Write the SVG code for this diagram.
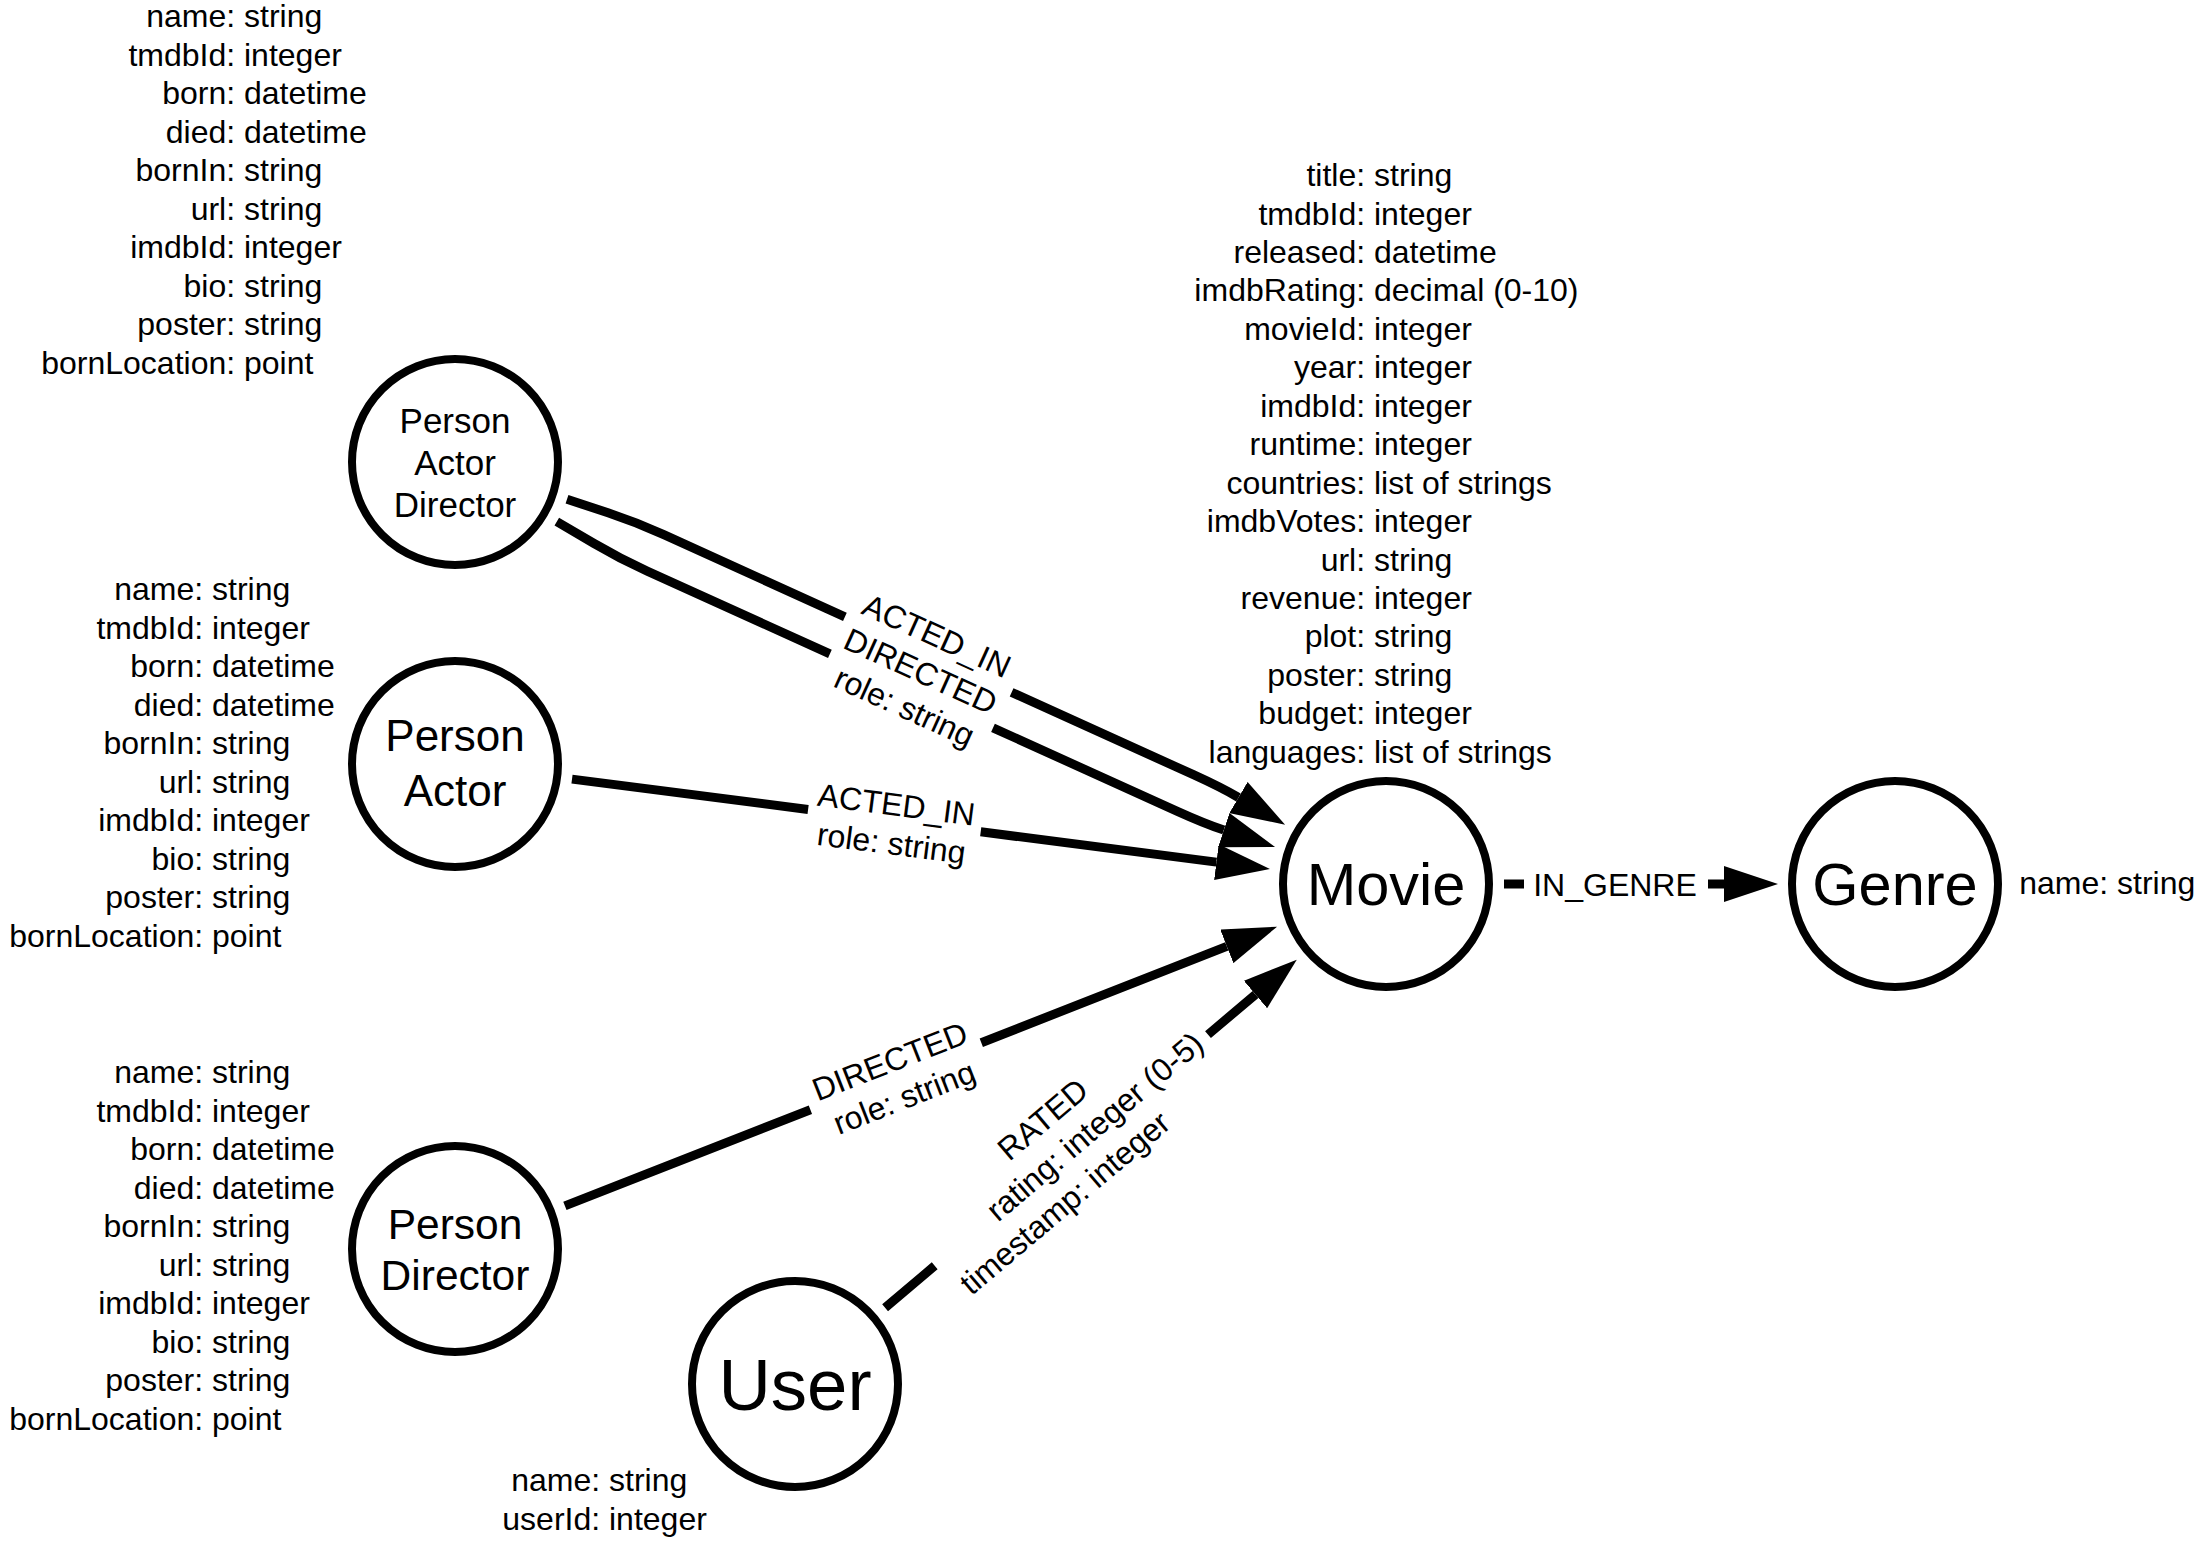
<svg xmlns="http://www.w3.org/2000/svg" width="2203" height="1541" viewBox="0 0 2203 1541">
<defs>
<style>
text{font-family:"Liberation Sans",Arial,Helvetica,sans-serif;fill:#000}
.node{fill:#fff;stroke:#000;stroke-width:8}
.prop{font-size:32px}
.k{text-anchor:end}
.rel{fill:none;stroke:#000;stroke-width:9;stroke-linecap:butt;stroke-linejoin:round;marker-end:url(#arrow)}
.lbl{font-size:32px;text-anchor:middle}
.cap{text-anchor:middle}
</style>
<marker id="arrow" markerUnits="userSpaceOnUse" markerWidth="54" markerHeight="36" viewBox="0 0 54 36" refX="0" refY="18" orient="auto">
<path d="M0,0 L54,18 L0,36 Z" fill="#000"/>
</marker>
</defs>
<rect width="2203" height="1541" fill="#fff"/>

<g id="connectors">
<path id="rel-pad-acted" class="rel" d="M567.0,499.2 L608.0,512.8 Q636.5,522.3 663.8,534.7 L844.9,616.8 M1011.6,692.3 L1193.4,774.7 Q1220.7,787.1 1238.5,797.5"/>
<path id="rel-pad-directed" class="rel" d="M556.8,521.7 L594.1,543.5 Q619.9,558.7 647.2,571.1 L829.9,653.9 M993.0,727.8 L1177.4,811.4 Q1204.8,823.8 1223.8,830.1"/>
<path id="rel-pa-acted" class="rel" d="M572.0,779.1 L808.1,809.5 M980.7,831.8 L1216.4,862.1"/>
<path id="rel-pd-directed" class="rel" d="M564.9,1205.9 L810.4,1109.7 M981.3,1042.7 L1226.8,946.4"/>
<path id="rel-user-rated" class="rel" d="M885.1,1307.8 L934.7,1265.8 M1208.0,1034.6 L1255.5,994.5"/>
<path id="rel-movie-genre" class="rel" d="M1504,884 L1524,884 M1708,884 L1724,884"/>
<g class="lbl">
<g transform="translate(920.0,672.7) rotate(24.38)">
<text y="-29.5">ACTED_IN</text>
<text y="9.5">DIRECTED</text>
<text y="48.5">role: string</text>
</g>
<g transform="translate(894.4,820.6) rotate(7.34)">
<text y="-5">ACTED_IN</text>
<text y="34">role: string</text>
</g>
<g transform="translate(895.8,1076.2) rotate(-21.41)">
<text y="-5">DIRECTED</text>
<text y="34">role: string</text>
</g>
<g transform="translate(1071.4,1150.2) rotate(-40.23)">
<text x="-2" y="-31">RATED</text>
<text x="33" y="8">rating: integer (0-5)</text>
<text x="-39" y="47">timestamp: integer</text>
</g>
<text x="1615" y="895.5">IN_GENRE</text>
</g>
</g>

<g id="node-person-actor-director">
<circle class="node" cx="455" cy="462" r="103"/>
<g class="cap" font-size="35">
<text x="455" y="432.5">Person</text>
<text x="455" y="474.5">Actor</text>
<text x="455" y="516.5">Director</text>
</g>
<g class="prop">
<text y="27"><tspan class="k" x="244">name: </tspan><tspan x="244">string</tspan></text>
<text y="65.5"><tspan class="k" x="244">tmdbId: </tspan><tspan x="244">integer</tspan></text>
<text y="104"><tspan class="k" x="244">born: </tspan><tspan x="244">datetime</tspan></text>
<text y="142.5"><tspan class="k" x="244">died: </tspan><tspan x="244">datetime</tspan></text>
<text y="181"><tspan class="k" x="244">bornIn: </tspan><tspan x="244">string</tspan></text>
<text y="219.5"><tspan class="k" x="244">url: </tspan><tspan x="244">string</tspan></text>
<text y="258"><tspan class="k" x="244">imdbId: </tspan><tspan x="244">integer</tspan></text>
<text y="296.5"><tspan class="k" x="244">bio: </tspan><tspan x="244">string</tspan></text>
<text y="335"><tspan class="k" x="244">poster: </tspan><tspan x="244">string</tspan></text>
<text y="373.5"><tspan class="k" x="244">bornLocation: </tspan><tspan x="244">point</tspan></text>
</g>
</g>

<g id="node-person-actor">
<circle class="node" cx="455" cy="764" r="103"/>
<g class="cap" font-size="44">
<text x="455" y="751">Person</text>
<text x="455" y="806">Actor</text>
</g>
<g class="prop">
<text y="600"><tspan class="k" x="212">name: </tspan><tspan x="212">string</tspan></text>
<text y="638.5"><tspan class="k" x="212">tmdbId: </tspan><tspan x="212">integer</tspan></text>
<text y="677"><tspan class="k" x="212">born: </tspan><tspan x="212">datetime</tspan></text>
<text y="715.5"><tspan class="k" x="212">died: </tspan><tspan x="212">datetime</tspan></text>
<text y="754"><tspan class="k" x="212">bornIn: </tspan><tspan x="212">string</tspan></text>
<text y="792.5"><tspan class="k" x="212">url: </tspan><tspan x="212">string</tspan></text>
<text y="831"><tspan class="k" x="212">imdbId: </tspan><tspan x="212">integer</tspan></text>
<text y="869.5"><tspan class="k" x="212">bio: </tspan><tspan x="212">string</tspan></text>
<text y="908"><tspan class="k" x="212">poster: </tspan><tspan x="212">string</tspan></text>
<text y="946.5"><tspan class="k" x="212">bornLocation: </tspan><tspan x="212">point</tspan></text>
</g>
</g>

<g id="node-person-director">
<circle class="node" cx="455" cy="1249" r="103"/>
<g class="cap" font-size="42.5">
<text x="455" y="1238.5">Person</text>
<text x="455" y="1289.5">Director</text>
</g>
<g class="prop">
<text y="1083"><tspan class="k" x="212">name: </tspan><tspan x="212">string</tspan></text>
<text y="1121.5"><tspan class="k" x="212">tmdbId: </tspan><tspan x="212">integer</tspan></text>
<text y="1160"><tspan class="k" x="212">born: </tspan><tspan x="212">datetime</tspan></text>
<text y="1198.5"><tspan class="k" x="212">died: </tspan><tspan x="212">datetime</tspan></text>
<text y="1237"><tspan class="k" x="212">bornIn: </tspan><tspan x="212">string</tspan></text>
<text y="1275.5"><tspan class="k" x="212">url: </tspan><tspan x="212">string</tspan></text>
<text y="1314"><tspan class="k" x="212">imdbId: </tspan><tspan x="212">integer</tspan></text>
<text y="1352.5"><tspan class="k" x="212">bio: </tspan><tspan x="212">string</tspan></text>
<text y="1391"><tspan class="k" x="212">poster: </tspan><tspan x="212">string</tspan></text>
<text y="1429.5"><tspan class="k" x="212">bornLocation: </tspan><tspan x="212">point</tspan></text>
</g>
</g>

<g id="node-user">
<circle class="node" cx="795" cy="1384" r="103"/>
<text class="cap" x="795" y="1410" font-size="72.5">User</text>
<g class="prop">
<text y="1491"><tspan class="k" x="609">name: </tspan><tspan x="609">string</tspan></text>
<text y="1529.5"><tspan class="k" x="609">userId: </tspan><tspan x="609">integer</tspan></text>
</g>
</g>

<g id="node-movie">
<circle class="node" cx="1386" cy="884" r="103"/>
<text class="cap" x="1386" y="905.3" font-size="59.5">Movie</text>
<g class="prop">
<text y="186"><tspan class="k" x="1374">title: </tspan><tspan x="1374">string</tspan></text>
<text y="224.5"><tspan class="k" x="1374">tmdbId: </tspan><tspan x="1374">integer</tspan></text>
<text y="262.9"><tspan class="k" x="1374">released: </tspan><tspan x="1374">datetime</tspan></text>
<text y="301.4"><tspan class="k" x="1374">imdbRating: </tspan><tspan x="1374">decimal (0-10)</tspan></text>
<text y="339.8"><tspan class="k" x="1374">movieId: </tspan><tspan x="1374">integer</tspan></text>
<text y="378.3"><tspan class="k" x="1374">year: </tspan><tspan x="1374">integer</tspan></text>
<text y="416.7"><tspan class="k" x="1374">imdbId: </tspan><tspan x="1374">integer</tspan></text>
<text y="455.2"><tspan class="k" x="1374">runtime: </tspan><tspan x="1374">integer</tspan></text>
<text y="493.6"><tspan class="k" x="1374">countries: </tspan><tspan x="1374">list of strings</tspan></text>
<text y="532.1"><tspan class="k" x="1374">imdbVotes: </tspan><tspan x="1374">integer</tspan></text>
<text y="570.5"><tspan class="k" x="1374">url: </tspan><tspan x="1374">string</tspan></text>
<text y="609"><tspan class="k" x="1374">revenue: </tspan><tspan x="1374">integer</tspan></text>
<text y="647.4"><tspan class="k" x="1374">plot: </tspan><tspan x="1374">string</tspan></text>
<text y="685.9"><tspan class="k" x="1374">poster: </tspan><tspan x="1374">string</tspan></text>
<text y="724.3"><tspan class="k" x="1374">budget: </tspan><tspan x="1374">integer</tspan></text>
<text y="762.8"><tspan class="k" x="1374">languages: </tspan><tspan x="1374">list of strings</tspan></text>
</g>
</g>

<g id="node-genre">
<circle class="node" cx="1895" cy="884" r="103"/>
<text class="cap" x="1895" y="905.3" font-size="59.5">Genre</text>
<g class="prop">
<text y="894"><tspan class="k" x="2117">name: </tspan><tspan x="2117">string</tspan></text>
</g>
</g>
</svg>
